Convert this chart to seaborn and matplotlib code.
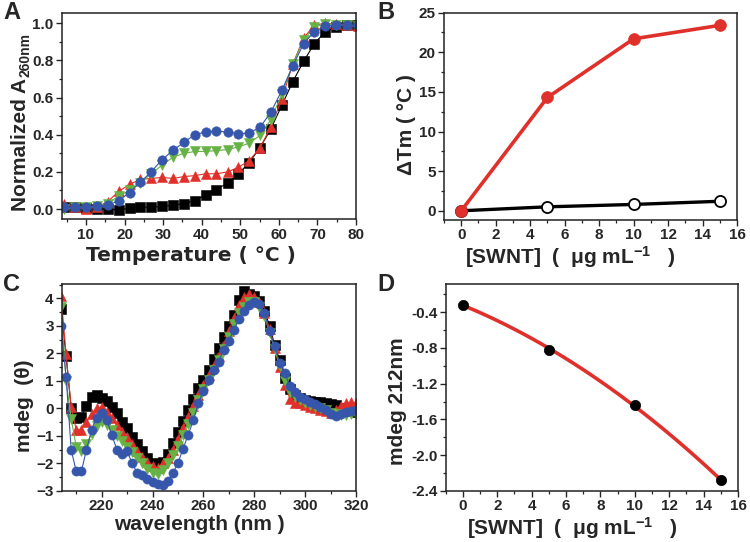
import numpy as np
import pandas as pd
import matplotlib
matplotlib.use("Agg")
import matplotlib.pyplot as plt
import seaborn as sns
from matplotlib.ticker import MultipleLocator

# ---------------- data ----------------
# Panel A: melting curves
temp_a = [4.3, 7.2, 10.0, 12.8, 15.6, 18.5, 21.3, 24.1, 26.9, 29.7, 32.6, 35.4, 38.2, 41.0,
          43.8, 46.7, 49.5, 52.3, 55.1, 57.9, 60.8, 63.6, 66.4, 69.2, 72.0, 74.9, 77.7, 80.5]
a_black = [0.01, 0.01, 0.005, 0.0, 0.0, -0.005, 0.005, 0.01, 0.01, 0.015, 0.02, 0.03, 0.045, 0.076,
           0.105, 0.14, 0.19, 0.25, 0.33, 0.43, 0.56, 0.685, 0.795, 0.89, 0.955, 0.98, 0.99, 0.99]
a_red = [0.025, 0.01, 0.0, 0.01, 0.04, 0.095, 0.133, 0.16, 0.165, 0.17, 0.165, 0.175, 0.18, 0.19,
         0.19, 0.20, 0.225, 0.26, 0.33, 0.44, 0.595, 0.78, 0.92, 0.99, 1.0, 0.995, 0.99, 0.985]
a_green = [0.0, 0.01, 0.01, 0.015, 0.03, 0.07, 0.10, 0.14, 0.19, 0.236, 0.28, 0.30, 0.31, 0.31,
           0.315, 0.32, 0.334, 0.355, 0.396, 0.48, 0.62, 0.78, 0.91, 0.98, 0.995, 0.99, 0.99, 0.985]
a_blue = [0.01, 0.01, 0.01, 0.015, 0.02, 0.045, 0.089, 0.145, 0.20, 0.266, 0.316, 0.36, 0.40, 0.415,
          0.42, 0.415, 0.405, 0.41, 0.44, 0.52, 0.64, 0.77, 0.89, 0.955, 0.985, 0.99, 0.99, 0.99]

# Panel B: delta Tm vs SWNT
swnt = [0, 5, 10, 15]
b_red = [0.0, 14.3, 21.7, 23.4]
b_black = [0.0, 0.5, 0.8, 1.2]

# Panel C: CD spectra
wl = [204, 206, 208, 210, 212, 214, 216, 218, 220, 222, 224, 226, 228, 230, 232, 234, 236, 238,
      240, 242, 244, 246, 248, 250, 252, 254, 256, 258, 260, 262, 264, 266, 268, 270, 272, 274,
      276, 278, 280, 282, 284, 286, 288, 290, 292, 294, 296, 298, 300, 302, 304, 306, 308, 310,
      312, 314, 316, 318, 320]
c_black = [3.6, 1.9, 0.0, -0.35, -0.30, 0.10, 0.40, 0.49, 0.37, 0.27, 0.06, -0.18, -0.48, -0.72,
           -1.03, -1.30, -1.55, -1.80, -2.00, -2.10, -1.95, -1.65, -1.25, -0.85, -0.45, -0.05,
           0.35, 0.75, 1.05, 1.40, 1.80, 2.20, 2.60, 3.00, 3.40, 3.95, 4.28, 4.15, 4.08, 3.90,
           3.55, 3.00, 2.30, 1.75, 1.10, 0.70, 0.50, 0.38, 0.32, 0.28, 0.25, 0.22, 0.20, 0.17,
           0.12, 0.02, -0.05, -0.10, -0.12]
c_red = [4.1, 1.97, 0.05, -0.78, -0.78, -0.49, -0.20, 0.0, 0.06, -0.12, -0.35, -0.60, -0.85, -1.05,
         -1.30, -1.55, -1.75, -1.95, -2.10, -2.15, -2.00, -1.80, -1.50, -1.10, -0.70, -0.30,
         0.10, 0.50, 0.85, 1.20, 1.55, 1.90, 2.30, 2.80, 3.30, 3.75, 4.05, 4.15, 4.05, 3.85,
         3.45, 2.90, 2.20, 1.50, 0.85, 0.35, 0.20, 0.18, 0.12, 0.05, 0.0, -0.05, -0.10, -0.15,
         -0.05, 0.10, 0.20, 0.22, 0.18]
c_green = [3.7, 1.0, -0.37, -1.40, -1.55, -1.30, -0.93, -0.65, -0.50, -0.60, -0.80, -1.00, -1.20,
           -1.40, -1.60, -1.80, -2.00, -2.20, -2.35, -2.40, -2.25, -2.00, -1.70, -1.35, -0.95,
           -0.55, -0.15, 0.30, 0.70, 1.05, 1.40, 1.75, 2.15, 2.60, 3.05, 3.45, 3.70, 3.85, 3.85,
           3.70, 3.35, 2.75, 2.15, 1.55, 1.00, 0.60, 0.40, 0.30, 0.20, 0.12, 0.05, 0.0, -0.05,
           -0.15, -0.22, -0.25, -0.25, -0.22, -0.20]
c_blue = [3.0, 1.15, -1.50, -2.29, -2.29, -1.50, -0.79, -0.34, -0.16, -0.43, -0.97, -1.50, -1.64,
          -1.55, -2.00, -2.35, -2.43, -2.58, -2.68, -2.74, -2.77, -2.62, -2.35, -1.98, -1.46,
          -0.97, -0.43, 0.18, 0.65, 1.03, 1.40, 1.70, 2.13, 2.46, 2.86, 3.25, 3.53, 3.77, 3.86,
          3.78, 3.45, 2.80, 2.25, 1.64, 1.28, 0.81, 0.60, 0.42, 0.33, 0.24, 0.16, 0.06, -0.05,
          -0.20, -0.26, -0.20, -0.12, -0.10, -0.07]

# Panel D: CD at 212 nm
d_swnt = [0, 5, 10, 15]
d_mdeg = [-0.32, -0.82, -1.44, -2.28]

# ---------------- style ----------------
sns.set_theme(style="ticks")
plt.rcParams["font.family"] = ["Liberation Sans", "DejaVu Sans"]
plt.rcParams["font.weight"] = "bold"
plt.rcParams["axes.labelweight"] = "bold"
plt.rcParams["mathtext.fontset"] = "custom"
plt.rcParams["mathtext.rm"] = "Liberation Sans:bold"
plt.rcParams["mathtext.bf"] = "Liberation Sans:bold"
plt.rcParams["mathtext.it"] = "Liberation Sans:bold:italic"
plt.rcParams["mathtext.default"] = "bf"

BLACK = "#000000"
RED = "#e0302b"
GREEN = "#67b244"
BLUE = "#3556aa"

fig = plt.figure(figsize=(7.5, 5.42), dpi=100)

axA = fig.add_axes([0.0827, 0.5954, 0.392, 0.3812])
axB = fig.add_axes([0.592, 0.594, 0.3907, 0.3826])
axC = fig.add_axes([0.0827, 0.0941, 0.392, 0.3819])
axD = fig.add_axes([0.5943, 0.0941, 0.3897, 0.3814])


def style_axis(ax):
    for s in ax.spines.values():
        s.set_linewidth(1.1)
        s.set_color("#222222")
    ax.tick_params(which="major", direction="out", length=4, width=1.0, labelsize=11,
                   top=False, right=False, pad=2)
    ax.tick_params(which="minor", direction="out", length=2.5, width=0.9,
                   top=False, right=False)
    for lab in ax.get_xticklabels() + ax.get_yticklabels():
        lab.set_fontweight("bold")


# Panel A
for y, c, m in [(a_black, BLACK, "s"), (a_red, RED, "^"), (a_green, GREEN, "v"), (a_blue, BLUE, "o")]:
    sns.lineplot(x=temp_a, y=y, ax=axA, color=c, marker=m, markersize=6.8, linewidth=0.8,
                 markeredgecolor=c, markeredgewidth=0.4, sort=False, legend=False)
axA.set_xlim(3.8, 80)
axA.set_ylim(-0.055, 1.057)
axA.xaxis.set_major_locator(MultipleLocator(10))
axA.xaxis.set_minor_locator(MultipleLocator(5))
axA.yaxis.set_major_locator(MultipleLocator(0.2))
axA.yaxis.set_minor_locator(MultipleLocator(0.1))
axA.yaxis.set_major_formatter(matplotlib.ticker.FormatStrFormatter("%.1f"))
axA.set_xlabel("Temperature ( °C )", fontsize=14.5, labelpad=3, family=["DejaVu Sans"])
axA.set_ylabel("Normalized A", fontsize=15, labelpad=2)
axA.xaxis.label.set_x(0.44)
axA.yaxis.label.set_y(0.36)
style_axis(axA)

# Panel B
sns.lineplot(x=swnt, y=b_black, ax=axB, color=BLACK, marker="o", markersize=8, linewidth=2.4,
             markerfacecolor="white", markeredgecolor=BLACK, markeredgewidth=1.3, legend=False)
sns.lineplot(x=swnt, y=b_red, ax=axB, color=RED, marker="o", markersize=8.5, linewidth=2.6,
             markeredgecolor=RED, markeredgewidth=0.5, legend=False)
axB.set_xlim(-1, 16)
axB.set_ylim(-1.17, 25)
axB.xaxis.set_major_locator(MultipleLocator(2))
axB.xaxis.set_minor_locator(MultipleLocator(1))
axB.yaxis.set_major_locator(MultipleLocator(5))
axB.yaxis.set_minor_locator(MultipleLocator(2.5))
axB.set_xlabel("[SWNT]  (  μg mL$^{-1}$   )", fontsize=15, labelpad=1)
axB.set_ylabel("ΔTm ( °C )", fontsize=15, labelpad=2)
axB.xaxis.label.set_x(0.43)
axB.yaxis.label.set_y(0.46)
style_axis(axB)

# Panel C
for y, c, m in [(c_black, BLACK, "s"), (c_red, RED, "^"), (c_green, GREEN, "v"), (c_blue, BLUE, "o")]:
    sns.lineplot(x=wl, y=y, ax=axC, color=c, marker=m, markersize=6.6, linewidth=0.8,
                 markeredgecolor=c, markeredgewidth=0.4, sort=False, legend=False)
axC.set_xlim(204.4, 320)
axC.set_ylim(-3, 4.52)
axC.xaxis.set_major_locator(MultipleLocator(20))
axC.xaxis.set_minor_locator(MultipleLocator(10))
axC.yaxis.set_major_locator(MultipleLocator(1))
axC.yaxis.set_minor_locator(MultipleLocator(0.5))
axC.set_xlabel("wavelength (nm )", fontsize=15, labelpad=1)
axC.set_ylabel("mdeg  (θ)", fontsize=15, labelpad=2)
axC.xaxis.label.set_x(0.466)
axC.yaxis.label.set_y(0.41)
style_axis(axC)

# Panel D
coef = np.polyfit(d_swnt, d_mdeg, 2)
fit_x = np.linspace(min(d_swnt), max(d_swnt), 120)
fit_y = np.polyval(coef, fit_x)
sns.lineplot(x=fit_x, y=fit_y, ax=axD, color=RED, linewidth=2.6, legend=False)
sns.scatterplot(x=d_swnt, y=d_mdeg, ax=axD, color=BLACK, s=55, edgecolor=BLACK, linewidth=0.5,
                zorder=3, legend=False)
axD.set_xlim(-1, 16)
axD.set_ylim(-2.4, -0.09)
axD.xaxis.set_major_locator(MultipleLocator(2))
axD.xaxis.set_minor_locator(MultipleLocator(1))
axD.yaxis.set_major_locator(MultipleLocator(0.4))
axD.yaxis.set_minor_locator(MultipleLocator(0.2))
axD.yaxis.set_major_formatter(matplotlib.ticker.FormatStrFormatter("%.1f"))
axD.set_xlabel("[SWNT]  (  μg mL$^{-1}$   )", fontsize=15, labelpad=1)
axD.set_ylabel("mdeg 212nm", fontsize=15, labelpad=3)
axD.xaxis.label.set_x(0.432)
axD.yaxis.label.set_y(0.435)
style_axis(axD)

# Panel letters
for x, y, t in [(0.004, 0.998, "A"), (0.503, 0.998, "B"), (0.004, 0.497, "C"), (0.503, 0.497, "D")]:
    fig.text(x, y, t, fontsize=17, fontweight="bold", ha="left", va="top")

# subscript of the panel A y label, placed after the label is laid out
fig.canvas.draw()
bb = axA.yaxis.label.get_window_extent(fig.canvas.get_renderer())
W, H = fig.get_size_inches() * fig.dpi
fig.text((bb.x1 + 3) / W, (bb.y1 + 1) / H, "260nm", fontsize=10, fontweight="bold",
         rotation=90, ha="right", va="bottom")

fig.savefig("out.png", dpi=100)
